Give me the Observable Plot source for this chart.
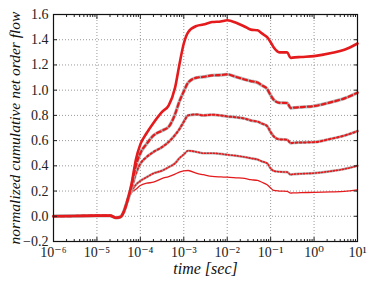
<!DOCTYPE html>
<html><head><meta charset="utf-8">
<script src="https://cdn.jsdelivr.net/npm/d3@7"></script>
<script src="https://cdn.jsdelivr.net/npm/@observablehq/plot@0.6"></script>
<style>body{margin:0;background:#fff} svg text{font-family:"Liberation Serif","DejaVu Serif",serif !important}</style>
</head><body><div id="chart"></div>
<script>
const time = [1e-6, 3e-6, 1e-5, 2.0e-5, 2.8e-5, 3.5e-5, 4.2e-5, 5.0e-5, 6.3e-5, 7.9e-5, 1e-4, 1.4e-4, 2.0e-4, 3.2e-4, 4.5e-4, 6.3e-4, 7.9e-4, 1e-3, 1.26e-3, 2.0e-3, 2.8e-3, 4.5e-3, 7.1e-3, 1e-2, 1.6e-2, 2.5e-2, 3.5e-2, 5.0e-2, 6.3e-2, 8.3e-2, 0.1, 0.117, 0.16, 0.24, 0.29, 0.32, 0.5, 1, 2.5, 5, 10];
const s1 = [0, 0.002, 0.005, 0.005, -0.012, -0.005, 0.04, 0.12, 0.26, 0.45, 0.57, 0.66, 0.74, 0.83, 0.88, 1.02, 1.2, 1.37, 1.46, 1.51, 1.52, 1.54, 1.545, 1.554, 1.535, 1.505, 1.48, 1.475, 1.45, 1.42, 1.38, 1.34, 1.30, 1.30, 1.255, 1.258, 1.263, 1.27, 1.294, 1.32, 1.37];
const s2 = [0, 0.002, 0.005, 0.005, -0.012, -0.005, 0.04, 0.12, 0.24, 0.40, 0.50, 0.575, 0.64, 0.68, 0.71, 0.81, 0.91, 0.99, 1.06, 1.10, 1.105, 1.117, 1.12, 1.125, 1.105, 1.085, 1.072, 1.06, 1.038, 1.01, 0.96, 0.925, 0.90, 0.898, 0.858, 0.86, 0.865, 0.874, 0.905, 0.935, 0.98];
const s3 = [0, 0.002, 0.005, 0.005, -0.012, -0.005, 0.04, 0.12, 0.22, 0.34, 0.417, 0.47, 0.51, 0.55, 0.59, 0.645, 0.69, 0.75, 0.80, 0.808, 0.80, 0.805, 0.80, 0.792, 0.785, 0.775, 0.76, 0.75, 0.735, 0.715, 0.667, 0.635, 0.61, 0.607, 0.58, 0.582, 0.585, 0.588, 0.615, 0.64, 0.675];
const s4 = [0, 0.002, 0.005, 0.005, -0.012, -0.005, 0.04, 0.12, 0.20, 0.25, 0.28, 0.31, 0.34, 0.363, 0.39, 0.42, 0.46, 0.49, 0.52, 0.51, 0.50, 0.50, 0.495, 0.488, 0.48, 0.47, 0.46, 0.45, 0.435, 0.42, 0.38, 0.36, 0.353, 0.35, 0.33, 0.333, 0.337, 0.342, 0.358, 0.375, 0.40];
const s5 = [0, 0.002, 0.005, 0.005, -0.012, -0.005, 0.04, 0.12, 0.19, 0.215, 0.244, 0.262, 0.27, 0.30, 0.315, 0.335, 0.35, 0.36, 0.363, 0.34, 0.33, 0.316, 0.312, 0.31, 0.305, 0.30, 0.29, 0.284, 0.27, 0.25, 0.225, 0.205, 0.20, 0.197, 0.184, 0.185, 0.188, 0.189, 0.193, 0.198, 0.21];

const xTicks = [1e-6, 1e-5, 1e-4, 1e-3, 1e-2, 1e-1, 1, 10];
const xTickLabels = ["10\u207B\u2076", "10\u207B\u2075", "10\u207B\u2074", "10\u207B\u00B3", "10\u207B\u00B2", "10\u207B\u00B9", "10\u2070", "10\u00B9"];
const yTicks = [-0.2, 0, 0.2, 0.4, 0.6, 0.8, 1.0, 1.2, 1.4, 1.6];
const yTickLabels = ["\u22120.2", "0.0", "0.2", "0.4", "0.6", "0.8", "1.0", "1.2", "1.4", "1.6"];
const xMinor = [];
for (let e = -6; e < 1; e++) for (let m = 2; m <= 9; m++) xMinor.push(m * Math.pow(10, e));
const xLabel = "time [sec]";
const yLabel = "normalized cumulative net order flow";

const rows = (s) => time.map((t, i) => ({t, v: s[i]}));
const red = "#e41a1c", gray = "#b5b5b5";
const fmtX = d => xTickLabels[xTicks.findIndex(v => Math.abs(Math.log10(v) - Math.log10(d)) < 1e-6)];
const fmtY = d => yTickLabels[yTicks.findIndex(v => Math.abs(v - d) < 1e-9)];
const font = "'Liberation Serif', 'DejaVu Serif', serif";
const crv = "monotone-x";

const chart = Plot.plot({
  width: 374, height: 282,
  marginLeft: 53, marginTop: 14, marginRight: 17, marginBottom: 41,
  style: {fontFamily: font, fontSize: "13px", color: "#222", background: "#fff"},
  x: {type: "log", domain: [1e-6, 10]},
  y: {domain: [-0.2, 1.6]},
  marks: [
    Plot.gridX(xTicks, {stroke: "#999", strokeOpacity: 1, strokeDasharray: "1,2"}),
    Plot.gridY(yTicks, {stroke: "#999", strokeOpacity: 1, strokeDasharray: "1,2"}),
    Plot.line(rows(s5), {x: "t", y: "v", stroke: red, strokeWidth: 1.3, curve: crv}),
    Plot.line(rows(s4), {x: "t", y: "v", stroke: gray, strokeWidth: 2.6, curve: crv}),
    Plot.line(rows(s4), {x: "t", y: "v", stroke: red, strokeWidth: 1.6, strokeDasharray: "1.2,1.8", curve: crv}),
    Plot.line(rows(s3), {x: "t", y: "v", stroke: gray, strokeWidth: 3, curve: crv}),
    Plot.line(rows(s3), {x: "t", y: "v", stroke: red, strokeWidth: 2, strokeDasharray: "1.8,2.4", curve: crv}),
    Plot.line(rows(s2), {x: "t", y: "v", stroke: gray, strokeWidth: 3.4, curve: crv}),
    Plot.line(rows(s2), {x: "t", y: "v", stroke: red, strokeWidth: 2.2, strokeDasharray: "4,3", curve: crv}),
    Plot.line(rows(s1), {x: "t", y: "v", stroke: red, strokeWidth: 2.6, curve: crv}),
    Plot.axisX({ticks: xTicks, tickSize: 0, tickPadding: 6, tickFormat: fmtX, fontSize: 14, fontFamily: font, label: null}),
    Plot.axisX({ticks: xTicks, tickSize: -4, tickFormat: () => "", label: null}),
    Plot.axisX({ticks: xMinor, tickSize: -2, tickFormat: () => "", label: null}),
    Plot.axisX({anchor: "top", ticks: xTicks, tickSize: -4, tickFormat: () => "", label: null}),
    Plot.axisX({anchor: "top", ticks: xMinor, tickSize: -2, tickFormat: () => "", label: null}),
    Plot.axisY({ticks: yTicks, tickSize: 0, tickPadding: 5, tickFormat: fmtY, fontSize: 14, fontFamily: font, label: null}),
    Plot.axisY({ticks: yTicks, tickSize: -4, tickFormat: () => "", label: null}),
    Plot.axisY({anchor: "right", ticks: yTicks, tickSize: -4, tickFormat: () => "", label: null}),
    Plot.frame({stroke: "#111", strokeWidth: 1.2}),
    Plot.text([yLabel], {frameAnchor: "left", textAnchor: "middle", lineAnchor: "middle", rotate: -90, dx: -38, fontStyle: "italic", fontSize: 15.5, fontFamily: font, fill: "#111"}),
    Plot.text([xLabel], {frameAnchor: "bottom", textAnchor: "middle", lineAnchor: "middle", dy: 27, fontStyle: "italic", fontSize: 16, fontFamily: font, fill: "#111"})
  ]
});
document.getElementById("chart").append(chart);
</script>
</body></html>
